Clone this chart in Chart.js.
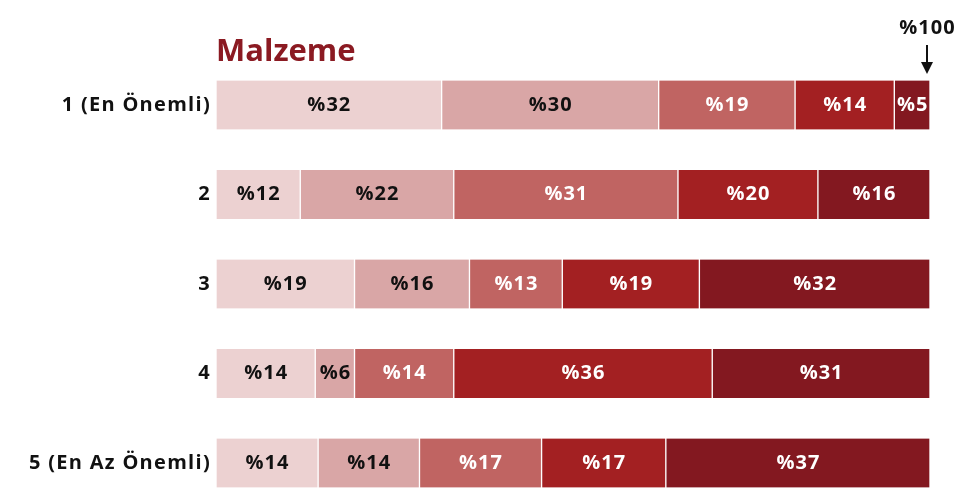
<!DOCTYPE html>
<html><head><meta charset="utf-8">
<script src="https://cdn.jsdelivr.net/npm/chart.js@4"></script>
<style>html,body{margin:0;padding:0;background:#fff}#wrap{width:965px;height:504px;position:relative}</style>
</head><body><div id="wrap"><canvas id="c" width="965" height="504"></canvas></div>
<script>
const categories = ['1 (En Önemli)', '2', '3', '4', '5 (En Az Önemli)'];
// share of each segment (left to right) per row, in %
const seg1 = [31.6, 11.8, 19.4, 13.9, 14.3];
const seg2 = [30.4, 21.5, 16.1, 5.5, 14.2];
const seg3 = [19.1, 31.4, 13.0, 13.9, 17.1];
const seg4 = [13.9, 19.6, 19.2, 36.2, 17.4];
const seg5 = [5.0, 15.7, 32.3, 30.5, 37.0];
const title = 'Malzeme';
const totalLabel = '%100';

const FONT = '"Open Sans", sans-serif';
const colors = ['#ecd1d1', '#d9a6a6', '#c06462', '#a32022', '#831820'];
const labelColors = ['#111', '#111', '#fff', '#fff', '#fff'];
const series = [seg1, seg2, seg3, seg4, seg5];

const overlay = {
  id: 'overlay',
  beforeDraw(chart) {
    chart.ctx.letterSpacing = '1.3px';
  },
  beforeDatasetsDraw(chart) {
    chart.ctx.letterSpacing = '0px';
  },
  afterDatasetsDraw(chart) {
    const ctx = chart.ctx;
    ctx.save();
    ctx.letterSpacing = '1px';
    ctx.textAlign = 'center';
    ctx.textBaseline = 'middle';
    ctx.font = 'bold 20px ' + FONT;
    chart.data.datasets.forEach((ds, di) => {
      const meta = chart.getDatasetMeta(di);
      meta.data.forEach((bar, i) => {
        const v = ds.data[i];
        ctx.fillStyle = labelColors[di];
        ctx.fillText('%' + Math.round(v), (bar.x + bar.base) / 2 + 0.5, bar.y);
      });
    });
    const area = chart.chartArea;
    // title
    ctx.letterSpacing = '0px';
    ctx.textAlign = 'left';
    ctx.textBaseline = 'alphabetic';
    ctx.fillStyle = '#8b1a22';
    ctx.font = 'bold 31px ' + FONT;
    ctx.fillText(title, area.left, 61);
    // total label + arrow
    const ax = area.right - 3;
    ctx.letterSpacing = '1px';
    ctx.fillStyle = '#111';
    ctx.font = 'bold 20px ' + FONT;
    ctx.textAlign = 'center';
    ctx.fillText(totalLabel, ax + 0.5, 34);
    ctx.letterSpacing = '0px';
    ctx.strokeStyle = '#111';
    ctx.lineWidth = 2;
    ctx.beginPath();
    ctx.moveTo(ax, 45);
    ctx.lineTo(ax, 64);
    ctx.stroke();
    ctx.beginPath();
    ctx.moveTo(ax - 6, 62);
    ctx.lineTo(ax + 6, 62);
    ctx.lineTo(ax, 74);
    ctx.closePath();
    ctx.fill();
    ctx.restore();
  }
};

new Chart(document.getElementById('c'), {
  type: 'bar',
  data: {
    labels: categories,
    datasets: series.map((d, i) => ({
      data: d,
      backgroundColor: colors[i],
      borderColor: '#ffffff',
      borderWidth: { left: 1, right: 1, top: 0, bottom: 0 },
      borderSkipped: false,
      barThickness: 49,
      clip: false
    }))
  },
  options: {
    indexAxis: 'y',
    responsive: false,
    animation: false,
    layout: { padding: { top: 105, bottom: 41, right: 35, left: 0 } },
    plugins: { legend: { display: false }, tooltip: { enabled: false }, title: { display: false } },
    scales: {
      x: { stacked: true, display: false, min: 0, max: 100 },
      y: {
        stacked: true,
        offset: false,
        grid: { display: false, drawTicks: false },
        border: { display: false },
        ticks: { color: '#111', font: { family: FONT, size: 20, weight: 'bold' }, padding: 5 },
        afterFit(scale) { scale.width = 216; }
      }
    }
  },
  plugins: [overlay]
});
</script>
</body></html>
